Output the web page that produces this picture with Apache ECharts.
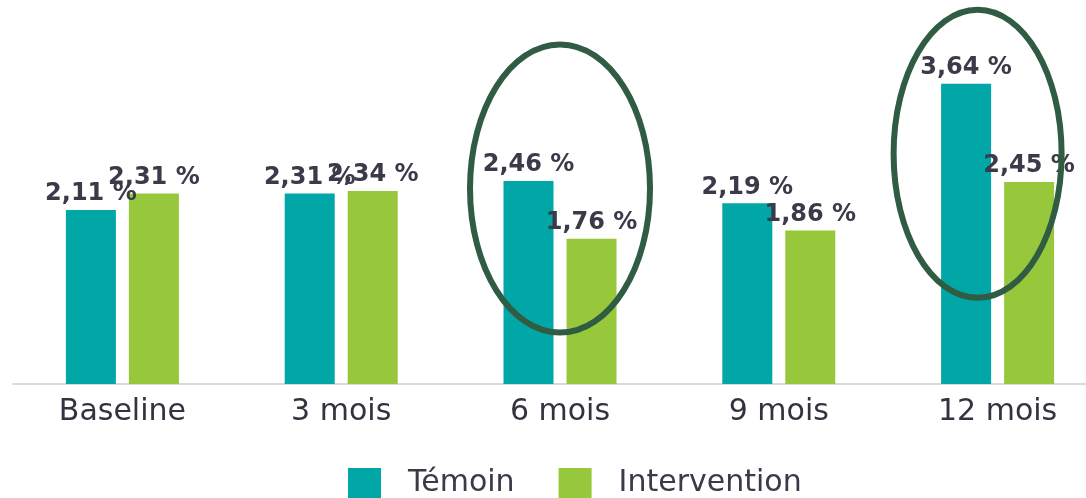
<!DOCTYPE html>
<html>
<head>
<meta charset="utf-8" />
<style>
  html, body { margin: 0; padding: 0; background: #ffffff; overflow: hidden; }
  #main { margin: 0; padding: 0; }
</style>
</head>
<body>
<!-- plot runs past the right edge like the cropped source -->
<div id="main" style="width:1107px;height:498px;"></div>
<script src="https://cdn.jsdelivr.net/npm/echarts@6/dist/echarts.min.js"></script>
<script>
  var categories = ['Baseline', '3 mois', '6 mois', '9 mois', '12 mois'];
  var temoin = [2.11, 2.31, 2.46, 2.19, 3.64];
  var intervention = [2.31, 2.34, 1.76, 1.86, 2.45];
  // highlighted groups: [category, x offset px, y value of ellipse centre, rx, ry]
  var highlights = [
    ['6 mois', 0, 2.37, 90, 144],
    ['12 mois', -20, 2.79, 84, 144]
  ];

  var font = 'DejaVu Sans';
  var fmt = function (p) { return p.value.toFixed(2).replace('.', ',') + ' %'; };

  var chart = echarts.init(document.getElementById('main'));
  var labelStyle = {
    show: true,
    position: 'top',
    distance: 4,
    formatter: fmt,
    color: '#3a3a48',
    fontFamily: font,
    fontWeight: 'bold',
    fontSize: 24
  };

  chart.setOption({
    animation: false,
    grid: { left: 13, top: 54, right: 0, bottom: 114 },
    legend: {
      left: 343,
      top: 463,
      itemWidth: 33,
      itemHeight: 30,
      itemGap: 44,
      icon: 'rect',
      textStyle: { color: '#3a3a48', fontFamily: font, fontSize: 30, padding: [0, 0, 0, 22] }
    },
    xAxis: {
      type: 'category',
      data: categories,
      axisLine: { lineStyle: { color: '#d9d9d9', width: 2 } },
      axisTick: { show: false },
      axisLabel: { color: '#333340', fontFamily: font, fontSize: 30, margin: 13 }
    },
    yAxis: {
      type: 'value',
      min: 0,
      max: 4,
      show: false
    },
    series: [
      {
        name: 'Témoin',
        type: 'bar',
        data: temoin,
        barWidth: 50,
        barGap: '26%',
        itemStyle: { color: '#00a7a6' },
        label: labelStyle
      },
      {
        name: 'Intervention',
        type: 'bar',
        data: intervention,
        barWidth: 50,
        itemStyle: { color: '#97c83c' },
        label: labelStyle
      }
    ]
  });

  var shapes = highlights.map(function (h) {
    var p = chart.convertToPixel({ gridIndex: 0 }, [h[0], h[2]]);
    return {
      type: 'ellipse',
      shape: { cx: p[0] + h[1], cy: p[1], rx: h[3], ry: h[4] },
      style: { fill: 'none', stroke: '#2f5c43', lineWidth: 6 },
      z: 100
    };
  });
  chart.setOption({ graphic: shapes });
</script>
</body>
</html>
